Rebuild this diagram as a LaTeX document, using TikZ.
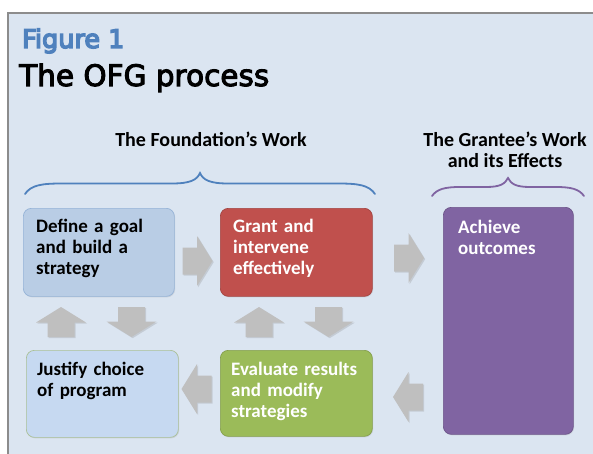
\documentclass[tikz,border=0pt]{standalone}
\usepackage{fontspec}
\setmainfont{Carlito}
\newfontfamily\titlefont[FakeBold=3.5]{DejaVu Sans}
\newfontfamily\figfont[FakeBold=5.5]{DejaVu Sans}
\usetikzlibrary{shadows}
\definecolor{bgblue}{RGB}{219,229,241}
\definecolor{framegray}{RGB}{140,140,140}
\definecolor{titleblue}{RGB}{79,129,189}
\definecolor{stepblue}{RGB}{185,205,229}
\definecolor{stepblueedge}{RGB}{149,179,215}
\definecolor{paleblue}{RGB}{198,217,241}
\definecolor{paleedge}{RGB}{170,192,150}
\definecolor{grantred}{RGB}{192,80,77}
\definecolor{evalgreen}{RGB}{155,187,89}
\definecolor{outcomepurple}{RGB}{128,100,162}
\definecolor{arrowgray}{RGB}{191,191,191}
\begin{document}
\begin{tikzpicture}[x=1pt,y=-1pt,
  stepbox/.style={rectangle, rounded corners=8pt, anchor=north west, inner sep=0pt,
    line width=0.7pt, drop shadow={shadow xshift=0.8pt, shadow yshift=-1pt, opacity=0.18}},
  steptext/.style={anchor=base west, align=left, inner sep=0pt, text width=140pt,
    font=\fontsize{19}{21}\selectfont\bfseries},
  bracket/.style={line width=1.8pt, line cap=round},
  heading/.style={font=\fontsize{20}{21}\selectfont\bfseries, align=center, inner sep=0pt},
  % a block arrow pointing right, centred on its position (rotate to turn it)
  blockarrow/.pic={
    \fill[arrowgray, drop shadow={shadow xshift=1.2pt, shadow yshift=-1.2pt, opacity=0.25}]
      (-15,-13.5) -- (-0.5,-13.5) -- (-0.5,-25) -- (15,0) -- (-0.5,25) -- (-0.5,13.5)
      -- (-15,13.5) -- cycle;
  }
]
\useasboundingbox (0,0) rectangle (593,454);

% page background and frame
\fill[bgblue] (8,13) rectangle (593,454);
\draw[framegray, line width=1.5pt] (8,454) -- (8,13) -- (593,13);

% titles
\node[anchor=base west, inner sep=0pt, text=titleblue,
  font=\figfont\fontsize{25.5}{25}\selectfont] (fig) at (22,48) {Figure 1};
\node[anchor=base west, inner sep=0pt,
  font=\titlefont\fontsize{29.5}{29}\selectfont] (title) at (19,86) {The OFG process};

% group headings
\node[heading, anchor=base] (found) at (211,147) {The Foundation’s Work};
\node[heading, anchor=base] (grantee) at (505,168) {The Grantee’s Work\\and its Effects};

% braces over the two groups
\draw[bracket, titleblue] (25,194)
  .. controls (31,185) and (42,183.5) .. (62,183.5) -- (172,183.5)
  .. controls (190,183.5) and (197,180) .. (200,173)
  .. controls (203,180) and (210,183.5) .. (228,183.5) -- (338,183.5)
  .. controls (358,183.5) and (369,185) .. (375,194);
\draw[bracket, outcomepurple] (432,196)
  .. controls (437,189) and (445,187) .. (460,187) -- (486,187)
  .. controls (500,187) and (505,184) .. (508,178)
  .. controls (511,184) and (516,187) .. (530,187) -- (556,187)
  .. controls (571,187) and (579,189) .. (584,196);

% process steps
\node[stepbox, fill=stepblue, draw=stepblueedge, minimum width=151pt, minimum height=88pt] (define) at (23,208) {};
\node[stepbox, fill=grantred, draw=grantred!85!black, minimum width=152pt, minimum height=88pt] (grant) at (220,208) {};
\node[stepbox, fill=outcomepurple, draw=outcomepurple!85!black, minimum width=130pt, minimum height=227pt] (achieve) at (443,207) {};
\node[stepbox, fill=paleblue, draw=paleedge, minimum width=152pt, minimum height=87pt] (justify) at (26,350) {};
\node[stepbox, fill=evalgreen, draw=evalgreen!85!black, minimum width=152pt, minimum height=86pt] (evaluate) at (220,350) {};

% step labels
\node[steptext] (definetxt) at (36,232) {Define a goal\\and build a\\strategy};
\node[steptext, text=white] (granttxt) at (233,232) {Grant and\\intervene\\effectively};
\node[steptext, text=white] (achievetxt) at (458,233) {Achieve\\outcomes};
\node[steptext] (justifytxt) at (37,375) {Justify choice\\of program};
\node[steptext, text=white] (evaluatetxt) at (231,375) {Evaluate results\\and modify\\strategies};

% block arrows between the steps
\pic (defToGrant) at (197.5,261) {blockarrow};
\pic (grantToAchieve) at (409,258) {blockarrow};
\pic[rotate=90] (justToDef) at (61,322) {blockarrow};
\pic[rotate=270] (defToJust) at (131.5,322) {blockarrow};
\pic[rotate=90] (evalToGrant) at (259,322) {blockarrow};
\pic[rotate=270] (grantToEval) at (328.5,322) {blockarrow};
\pic[rotate=180] (evalToJust) at (196.5,389) {blockarrow};
\pic[rotate=180] (achToEval) at (408,397) {blockarrow};
\end{tikzpicture}
\end{document}
